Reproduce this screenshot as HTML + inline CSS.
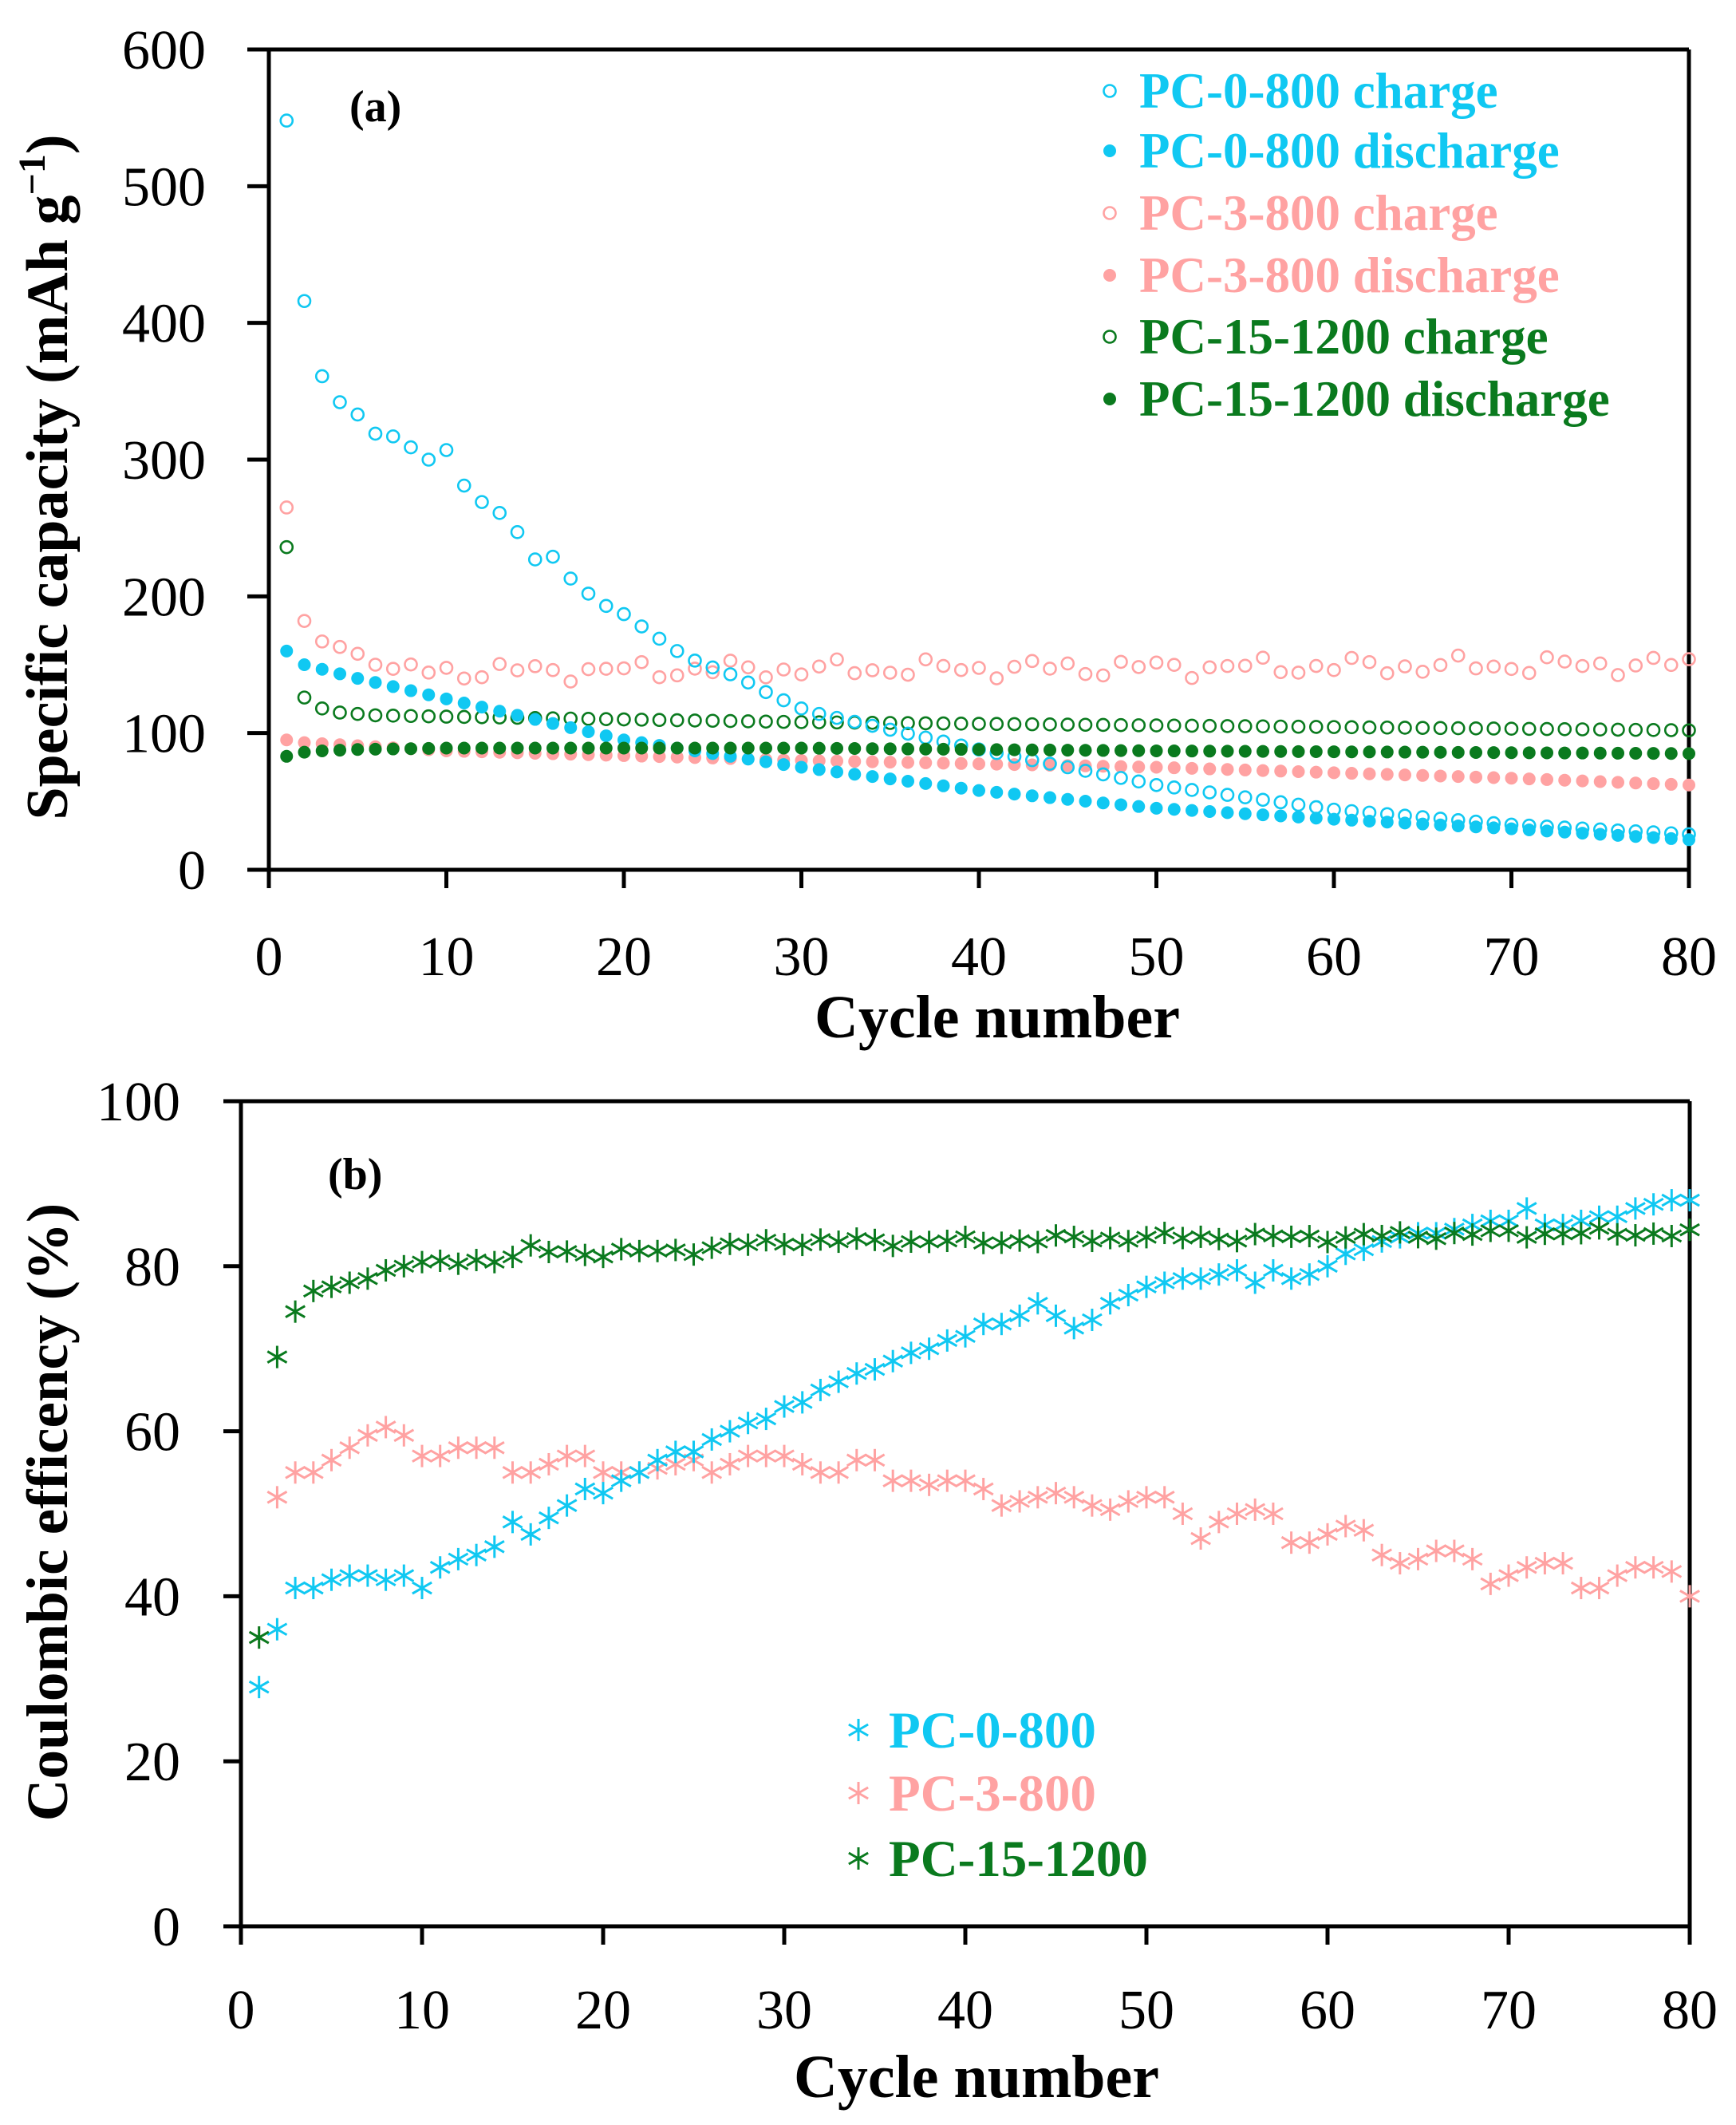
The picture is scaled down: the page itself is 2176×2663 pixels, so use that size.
<!DOCTYPE html>
<html><head><meta charset="utf-8"><style>
html,body{margin:0;padding:0;background:#fff;}
svg{display:block;}
text{font-family:"Liberation Serif",serif;}
</style></head><body>
<svg id="s" xmlns="http://www.w3.org/2000/svg" width="2176" height="2663" viewBox="0 0 2176 2663"></svg>
<script>
const S=document.getElementById('s');let h='';
const C='#10c8f2',P='#ffa2a2',G='#0a7a1e';
const ax=v=>337+v*(2117-337)/80, ay=v=>1090-v*(1090-62)/600;
const bx=v=>302+v*(2118-302)/80, by=v=>2414-v*(2414-1380)/100;
function line(x1,y1,x2,y2,w,c){h+=`<line x1="${x1}" y1="${y1}" x2="${x2}" y2="${y2}" stroke="${c||'#000'}" stroke-width="${w}"/>`;}
function txt(x,y,s,fs,anc,extra){h+=`<text x="${x}" y="${y}" font-size="${fs}" text-anchor="${anc||'start'}" ${extra||''}>${s}</text>`;}
function interp(pts,n){const out=[];for(let i=1;i<=n;i++){let a,b;for(let k=0;k<pts.length-1;k++){if(i>=pts[k][0]&&i<=pts[k+1][0]){a=pts[k];b=pts[k+1];break;}}if(!a){a=b=pts[pts.length-1];}const t=a[0]==b[0]?0:(i-a[0])/(b[0]-a[0]);out.push(a[1]+(b[1]-a[1])*t);}return out;}
function noise(i,amp,seed){return amp*Math.sin(i*1.7+seed)*Math.cos(i*0.63+seed*2);}
line(310,62,2117,62,5);line(337,62,337,1113,5);line(310,1090,2117,1090,5);line(2117,62,2117,1113,5);
for(let v=0;v<=600;v+=100){line(310,ay(v),337,ay(v),5);txt(258,ay(v)+24,v,70,'end');}
for(let v=0;v<=80;v+=10){line(ax(v),1090,ax(v),1113,5);txt(ax(v),1222,v,70,'middle');}
txt(438,152,'(a)',56,'start','font-weight="bold"');
const c0c=[548,416,361,342,333,319,317,309,300,307,281,269,261,247,227,229,213,202,193,187,178,169,160,153,148,143,137,130,124,118].concat(interp([[31,114],[40,88],[50,62],[60,44],[70,33],[80,26]],80).slice(30));
const c0d=interp([[1,160],[2,150],[5,140],[10,125],[20,95],[30,75],[40,58],[50,45],[60,37],[70,30],[80,22]],80);
const c3c=[265,182,167,163,158,150,147].concat(interp([[8,145],[80,150]],80).slice(7).map((v,i)=>v+noise(i+8,8,1)));
const c3d=interp([[1,95],[2,93],[10,87],[30,80],[50,75],[70,67],[80,62]],80);
const c15c=[236,126,118,115,114].concat(interp([[6,113],[10,112],[30,108],[80,102]],80).slice(5));
const c15d=interp([[1,83],[2,86],[3,87],[5,88],[10,89],[30,89],[50,87],[80,85]],80);
function circ(x,y,r,c,fill){h+=fill?`<circle cx="${x}" cy="${y}" r="${r}" fill="${c}"/>`:`<circle cx="${x}" cy="${y}" r="${r}" fill="none" stroke="${c}" stroke-width="2.6"/>`;}
[[c3d,P,1],[c3c,P,0],[c15c,G,0],[c0c,C,0],[c0d,C,1],[c15d,G,1]].forEach(([d,c,f])=>d.forEach((v,i)=>circ(ax(i+1),ay(v),f?8:7.5,c,f)));
const la=[['PC-0-800 charge',C,0],['PC-0-800 discharge',C,1],['PC-3-800 charge',P,0],['PC-3-800 discharge',P,1],['PC-15-1200 charge',G,0],['PC-15-1200 discharge',G,1]];
const ly=[114,189,267,345,422,500];
la.forEach((l,i)=>{circ(1391,ly[i],l[2]?8:7.5,l[1],l[2]);txt(1428,ly[i]+21,l[0],63,'start',`fill="${l[1]}" font-weight="bold"`);});
txt(0,0,'Specific capacity (mAh g<tspan dy="-28" font-size="48">−1</tspan><tspan dy="28">)</tspan>',74,'middle','font-weight="bold" transform="translate(84,598) rotate(-90)"');
txt(1250,1300,'Cycle number',76,'middle','font-weight="bold"');
line(280,1380,2118,1380,5);line(302,1380,302,2437,5);line(280,2414,2118,2414,5);line(2118,1380,2118,2437,5);
for(let v=0;v<=100;v+=20){line(280,by(v),302,by(v),5);txt(226,by(v)+24,v,70,'end');}
for(let v=0;v<=80;v+=10){line(bx(v),2414,bx(v),2437,5);txt(bx(v),2542,v,70,'middle');}
txt(411,1490,'(b)',56,'start','font-weight="bold"');
const e0=[29,36,41,41,42,42.5,42.5,42,42.5,41,43.5,44.5,45,46,49,47.5,49.5,51,53,52.5,54,55,56.5,57.5,57.5,59,60,61,61.5,63,63.5,65,66,67,67.5,68.5,69.5,70,71,71.5,73,73,74,75.5,74,72.5,73.5,75.5,76.5,77.5,78,78.5,78.5,79,79.5,78,79.5,78.5,79,80,81.5,82,83,83.5,84,84,84.5,85,85.5,85.5,87,85,85,85.5,86,86,87,87.5,88,88];
const e3=[35,52,55,55,56.5,58,59.5,60.5,59.5,57,57,58,58,58,55,55,56,57,57,55,55,55,55.5,56,56.5,55,56,57,57,57,56,55,55,56.5,56.5,54,54,53.5,54,54,53,51,51.5,52,52.5,52,51,50.5,51.5,52,52,50,47,49,50,50.5,50,46.5,46.5,47.5,48.5,48,45,44,44.5,45.5,45.5,44.5,41.5,42.5,43.5,44,44,41,41,42.5,43.5,43.5,43,40];
const e15=[35,69,74.5,77,77.5,78,78.5,79.5,80,80.5].concat(interp([[11,80.5],[15,81],[16,82],[20,81.5],[25,82],[30,83],[40,83],[50,83.5],[60,83.5],[70,84],[80,84]],80).slice(10).map((v,i)=>v+noise(i+11,0.6,3)));
function star(x,y,c){const r=14;line(x,y-r,x,y+r,3,c);const dx=r*0.866,dy=r*0.5;line(x-dx,y-dy,x+dx,y+dy,3,c);line(x-dx,y+dy,x+dx,y-dy,3,c);}
[[e3,P],[e0,C],[e15,G]].forEach(([d,c])=>d.forEach((v,i)=>star(bx(i+1),by(v),c)));
[['PC-0-800',C,2168],['PC-3-800',P,2247],['PC-15-1200',G,2329]].forEach(l=>{star(1076,l[2],l[1]);txt(1114,l[2]+22,l[0],65,'start',`fill="${l[1]}" font-weight="bold"`);});
txt(0,0,'Coulombic efficency (%)',73,'middle','font-weight="bold" transform="translate(84,1895) rotate(-90)"');
txt(1224,2628,'Cycle number',76,'middle','font-weight="bold"');
S.innerHTML=h;
</script>
</body></html>
